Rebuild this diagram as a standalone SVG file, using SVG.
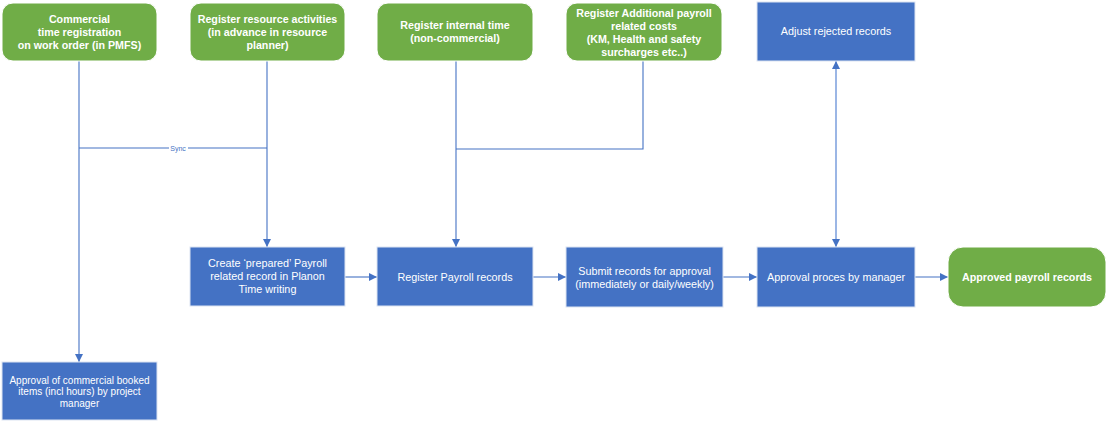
<svg xmlns="http://www.w3.org/2000/svg" width="1108" height="422" viewBox="0 0 1108 422">
<style>
.g{fill:#70AD47;stroke:#ffffff;stroke-width:1}
.b{fill:#4472C4;stroke:#dce4f2;stroke-width:1}
.gt{font-family:"Liberation Sans",Arial,sans-serif;font-size:10.7px;font-weight:bold;fill:#ffffff;text-anchor:middle}
.bt{font-family:"Liberation Sans",Arial,sans-serif;font-size:10.8px;fill:#ffffff;text-anchor:middle}
.bs{font-size:10px}
.c{fill:none;stroke:#4472C4;stroke-width:1.1}
.lbl{font-family:"Liberation Sans",Arial,sans-serif;font-size:7px;fill:#4472C4;text-anchor:middle}
</style>
<defs>
<marker id="ah" viewBox="0 0 10 10" refX="10" refY="5" markerWidth="8" markerHeight="8" markerUnits="userSpaceOnUse" orient="auto-start-reverse">
<path d="M0,0 L10,5 L0,10 z" fill="#4472C4"/>
</marker>
</defs>
<rect width="1108" height="422" fill="#ffffff"/>
<g id="connectors">
<path class="c" d="M79,61 V362" marker-end="url(#ah)"/>
<path class="c" d="M79,148 H267"/>
<path class="c" d="M267,61 V247" marker-end="url(#ah)"/>
<path class="c" d="M643,61 V149 H456"/>
<path class="c" d="M456,61 V247" marker-end="url(#ah)"/>
<path class="c" d="M345,277 H377" marker-end="url(#ah)"/>
<path class="c" d="M533,277 H566" marker-end="url(#ah)"/>
<path class="c" d="M723,277 H757" marker-end="url(#ah)"/>
<path class="c" d="M915,277 H948" marker-end="url(#ah)"/>
<path class="c" d="M836,61 V247" marker-start="url(#ah)" marker-end="url(#ah)" style="stroke:#7A9EDD;stroke-width:1.5"/>
<rect x="169" y="144" width="19" height="8" fill="#ffffff"/>
<text class="lbl" x="178" y="150.5">Sync</text>
</g>
<g id="n-commercial">
<rect class="g" x="2" y="3" width="155" height="58" rx="11"/>
<text class="gt" x="79.5" y="22.5">Commercial</text>
<text class="gt" x="79.5" y="35.5">time registration</text>
<text class="gt" x="79.5" y="48.5">on work order (in PMFS)</text>
</g>
<g id="n-resource">
<rect class="g" x="190" y="3" width="155" height="58" rx="11"/>
<text class="gt" x="267.5" y="22.5">Register resource activities</text>
<text class="gt" x="267.5" y="35.5">(in advance in resource</text>
<text class="gt" x="267.5" y="48.5">planner)</text>
</g>
<g id="n-internal">
<rect class="g" x="377" y="3" width="156" height="58" rx="11"/>
<text class="gt" x="455" y="29">Register internal time</text>
<text class="gt" x="455" y="42">(non-commercial)</text>
</g>
<g id="n-additional">
<rect class="g" x="566" y="3" width="156" height="58" rx="11"/>
<text class="gt" x="644" y="16.5">Register Additional payroll</text>
<text class="gt" x="644" y="29.5">related costs</text>
<text class="gt" x="644" y="42.5">(KM, Health and safety</text>
<text class="gt" x="644" y="55.5">surcharges etc..)</text>
</g>
<g id="n-adjust">
<rect class="b" x="757" y="2" width="158" height="59"/>
<text class="bt" x="836" y="35">Adjust rejected records</text>
</g>
<g id="n-create">
<rect class="b" x="190" y="247" width="155" height="59"/>
<text class="bt" x="267.5" y="266.5">Create ‘prepared’ Payroll</text>
<text class="bt" x="267.5" y="279.5">related record in Planon</text>
<text class="bt" x="267.5" y="292.5">Time writing</text>
</g>
<g id="n-approval-commercial">
<rect class="b" x="2" y="362" width="155" height="58"/>
<text class="bt bs" x="79.5" y="383.5">Approval of commercial booked</text>
<text class="bt bs" x="79.5" y="395">items (incl hours) by project</text>
<text class="bt bs" x="79.5" y="406.5">manager</text>
</g>
<g id="n-register-payroll">
<rect class="b" x="377" y="247" width="156" height="59"/>
<text class="bt" x="455" y="280.5">Register Payroll records</text>
</g>
<g id="n-submit">
<rect class="b" x="566" y="247" width="157" height="60"/>
<text class="bt" x="644.5" y="274.5">Submit records for approval</text>
<text class="bt" x="644.5" y="287.5">(immediately or daily/weekly)</text>
</g>
<g id="n-approval-manager">
<rect class="b" x="757" y="247" width="158" height="60"/>
<text class="bt" x="836" y="281">Approval proces by manager</text>
</g>
<g id="n-approved">
<rect class="g" x="948" y="247" width="158" height="60" rx="15"/>
<text class="gt" x="1027" y="281">Approved payroll records</text>
</g>
</svg>
